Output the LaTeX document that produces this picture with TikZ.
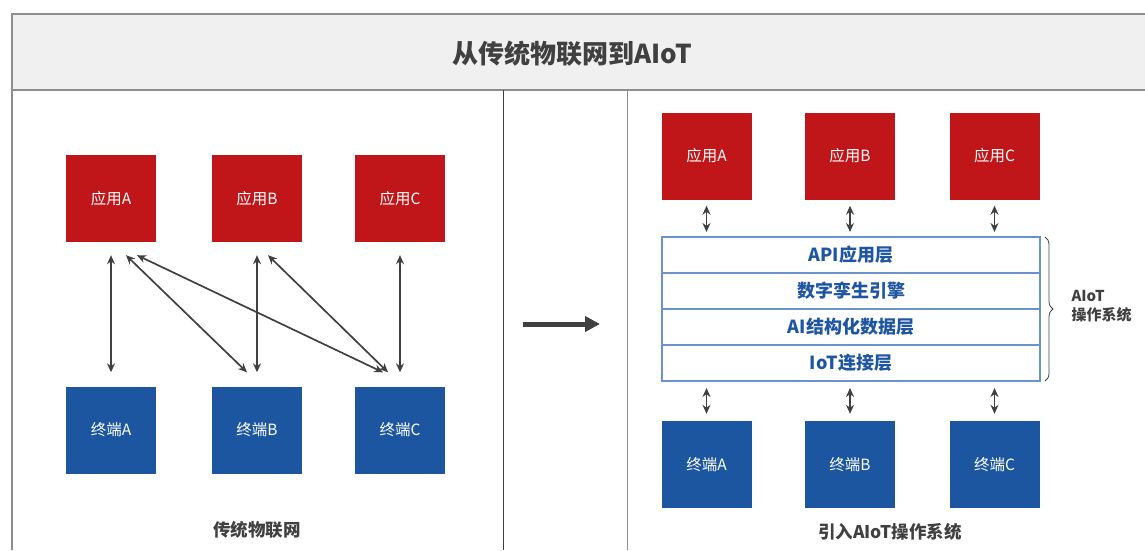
\documentclass[tikz,border=0pt]{standalone}
\usepackage{fontspec}
\setmainfont{Noto Sans CJK SC}
\usetikzlibrary{positioning,arrows.meta,decorations.pathreplacing}

\definecolor{appred}{HTML}{C0161A}
\definecolor{devblue}{HTML}{1C56A0}
\definecolor{layerblue}{HTML}{6A93CC}
\definecolor{layertext}{HTML}{1F56A3}
\definecolor{arrowgray}{HTML}{404040}
\definecolor{framegray}{HTML}{8E8E8E}
\definecolor{headfill}{HTML}{F0F0F0}

\tikzset{
    app/.style={fill=appred, text=white, minimum width=90pt, minimum height=87pt, inner sep=0pt, font=\fontsize{15.5}{15.5}\selectfont},
    dev/.style={app, fill=devblue},
    layer/.style={draw=layerblue, line width=1.2pt, outer sep=0pt, fill=white, minimum width=378pt, minimum height=36pt, inner sep=0pt, text=layertext, font=\bfseries\fontsize{18}{18}\selectfont},
    link/.style={{Stealth[length=9pt,width=8pt]}-{Stealth[length=9pt,width=8pt]}, arrowgray, line width=1.7pt},
    caption/.style={text=arrowgray, font=\bfseries\fontsize{17.5}{17.5}\selectfont},
}

\begin{document}
\begin{tikzpicture}[x=1pt, y=-1pt]
    \useasboundingbox (0,0) rectangle (1145,550);
    % frame and header
    \fill[headfill] (12,14) rectangle (1145,90);
    \draw[framegray, line width=1.5pt] (12,550) -- (12,14) -- (1145,14);
    \draw[framegray, line width=1.2pt] (12,90) -- (1145,90);
    \draw[arrowgray, line width=0.9pt] (503,90) -- (503,550);
    \draw[framegray, line width=1pt] (627,90) -- (627,550);
    \node[text=arrowgray, font=\bfseries\fontsize{26}{26}\selectfont] (title) at (572,54) {从传统物联网到AIoT};

    % traditional IoT
    \foreach \n/\x in {A/111, B/257, C/400} {
        \node[app] (app\n) at (\x,198.5) {应用\n};
        \node[dev] (dev\n) at (\x,430) {终端\n};
        \draw[link] ([yshift=-13pt]app\n.south) -- ([yshift=14pt]dev\n.north);
    }
    \draw[link] ([xshift=15pt,yshift=-13pt]appA.south) -- ([xshift=-10pt,yshift=14pt]devB.north);
    \draw[link] ([xshift=26pt,yshift=-13pt]appA.south) -- ([xshift=-17pt,yshift=14pt]devC.north);
    \draw[link] ([xshift=11pt,yshift=-13pt]appB.south) -- ([xshift=-12pt,yshift=14pt]devC.north);
    \node[caption] (oldcap) at (257,530) {传统物联网};

    % big arrow
    \coordinate (arrowstart) at (523,324);
    \coordinate (arrowend) at (600,324);
    \draw[-{Triangle[length=15pt,width=15pt]}, line width=5pt, arrowgray] (arrowstart) -- (arrowend);

    % AIoT operating system
    \node[layer] (api) at (851,255) {API应用层};
    \node[layer, below=0pt of api] (twin) {数字孪生引擎};
    \node[layer, below=0pt of twin] (data) {AI结构化数据层};
    \node[layer, below=0pt of data] (iot) {IoT连接层};
    \foreach \n/\x in {A/706.5, B/850, C/994.5} {
        \node[app] (rapp\n) at (\x,156) {应用\n};
        \node[dev] (rdev\n) at (\x,464.5) {终端\n};
        \draw[link, shorten <=6pt, shorten >=5pt] (rapp\n.south) -- (rapp\n.south |- api.north);
        \draw[link, shorten <=7pt, shorten >=7pt] (rdev\n.north |- iot.south) -- (rdev\n.north);
    }
    \draw[decorate, decoration={brace, amplitude=8pt}, arrowgray, line width=0.8pt]
        ([xshift=5pt]api.north east) -- ([xshift=5pt]iot.south east);
    \node[anchor=west, align=left, text=arrowgray, font=\bfseries\fontsize{15}{19}\selectfont] (oslabel) at ([xshift=28pt,yshift=3pt]data.north east) {AIoT\\操作系统};
    \node[caption] (newcap) at (890,532) {引入AIoT操作系统};
\end{tikzpicture}
\end{document}
